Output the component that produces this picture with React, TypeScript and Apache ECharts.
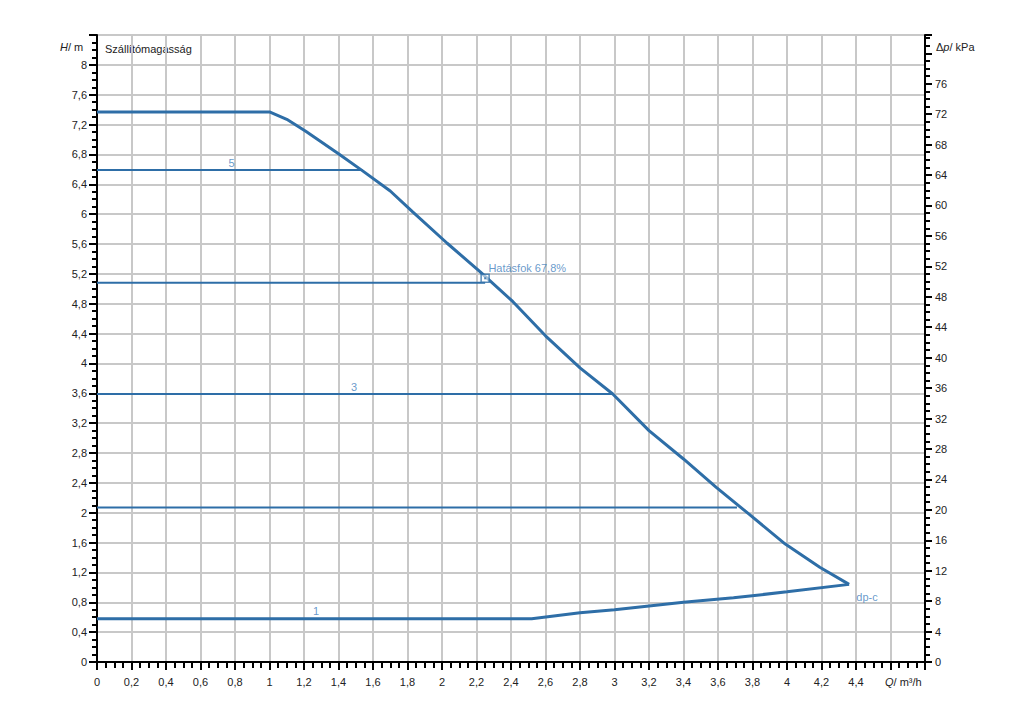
import React, { useEffect, useRef } from "react";
import * as echarts from "echarts";

// Max speed curve (Q m³/h, H m)
const maxCurve: [number, number][] = [
  [0, 7.37], [1.0, 7.37], [1.1, 7.27], [1.21, 7.11], [1.4, 6.81], [1.54, 6.58],
  [1.7, 6.31], [1.83, 6.03], [2.03, 5.61], [2.22, 5.23], [2.41, 4.83], [2.6, 4.37],
  [2.8, 3.94], [2.99, 3.59], [3.2, 3.1], [3.4, 2.72], [3.59, 2.34], [3.78, 1.98],
  [3.99, 1.58], [4.19, 1.27], [4.36, 1.04],
];
// Min speed curve
const minCurve: [number, number][] = [
  [4.36, 1.04], [4.0, 0.94], [3.69, 0.86], [3.4, 0.8], [3.0, 0.7], [2.8, 0.66],
  [2.52, 0.58], [0, 0.58],
];
// Constant pressure setpoint lines
const line5: [number, number][] = [[0, 6.59], [1.54, 6.59]];
const line3: [number, number][] = [[0, 3.59], [2.99, 3.59]];
const line2: [number, number][] = [[0, 2.07], [3.71, 2.07]];
const lineEff: [number, number][] = [[0, 5.08], [2.25, 5.08]];
const effPoint: [number, number] = [2.25, 5.14];
const effLabel = "Hatásfok 67,8%";
// Curve labels [Q, H, text]
const curveLabels: [number, number, string][] = [
  [0.78, 6.59, "5"],
  [1.49, 3.59, "3"],
  [1.27, 0.58, "1"],
];
const dpcLabel: [number, number, string] = [4.464, 0.868, "dp-c"];

const X_MAX = 4.8;
const Y_MAX = 8.4;
const KPA_PER_M = 9.81;

const BLUE = "#2e6ea7";
const LBLUE = "#3f80bd";
const FONT = "Liberation Sans";

const comma = (v: number) => String(Math.round(v * 100) / 100).replace(".", ",");

export default function App() {
  const ref = useRef<HTMLDivElement>(null);
  useEffect(() => {
    const chart = echarts.init(ref.current!, undefined, { renderer: "svg" });
    const lineSeries = (data: [number, number][], w: number) => ({
      type: "line",
      data,
      symbol: "none",
      lineStyle: { color: BLUE, width: w },
      silent: true,
      z: 3,
    });
    chart.setOption({
      animation: false,
      textStyle: { fontFamily: FONT },
      grid: {
        left: 97, right: 99, top: 35, bottom: 60,
        show: true, borderColor: "#000", borderWidth: 2,
      },
      xAxis: {
        type: "value", min: 0, max: X_MAX, interval: 0.2,
        axisLine: { show: true, lineStyle: { color: "#000", width: 2 } },
        axisTick: { show: true, length: 8, lineStyle: { color: "#000", width: 2 } },
        minorTick: { show: true, splitNumber: 4, length: 6, lineStyle: { color: "#000", width: 2 } },
        splitLine: { show: true, lineStyle: { color: "#c8c8c8", width: 2 } },
        axisLabel: {
          margin: 14, color: "#222", fontSize: 11, fontFamily: FONT,
          formatter: (v: number) => (v > 4.45 ? "" : comma(v)),
        },
      },
      yAxis: [
        {
          type: "value", min: 0, max: Y_MAX, interval: 0.4, position: "left",
          axisLine: { show: true, lineStyle: { color: "#000", width: 2 } },
          axisTick: { show: true, length: 8, lineStyle: { color: "#000", width: 2 } },
          minorTick: { show: true, splitNumber: 4, length: 5, lineStyle: { color: "#000", width: 2 } },
          splitLine: { show: true, lineStyle: { color: "#c8c8c8", width: 2 } },
          axisLabel: {
            margin: 10, color: "#222", fontSize: 11, fontFamily: FONT,
            formatter: (v: number) => (v > 8.05 ? "" : comma(v)),
          },
        },
        {
          type: "value", min: 0, max: Y_MAX * KPA_PER_M, interval: 4, position: "right",
          axisLine: { show: true, lineStyle: { color: "#000", width: 2 } },
          axisTick: { show: true, length: 7, lineStyle: { color: "#000", width: 2 } },
          minorTick: { show: true, splitNumber: 4, length: 5, lineStyle: { color: "#000", width: 2 } },
          splitLine: { show: false },
          axisLabel: {
            margin: 10, color: "#222", fontSize: 11, fontFamily: FONT,
            formatter: (v: number) => (v > 78 ? "" : String(v)),
          },
        },
      ],
      series: [
        lineSeries(line5, 2),
        lineSeries(line3, 2),
        lineSeries(line2, 2),
        lineSeries(lineEff, 2),
        lineSeries(maxCurve, 3),
        lineSeries(minCurve, 3),
        {
          type: "scatter",
          data: [effPoint],
          symbol: "rect",
          symbolSize: 8,
          itemStyle: { color: "rgba(255,255,255,0.7)", borderColor: BLUE, borderWidth: 1.5 },
          label: {
            show: true, position: [8, -11], align: "left", verticalAlign: "top",
            formatter: effLabel, color: LBLUE, fontSize: 11, fontFamily: FONT,
          },
          z: 5,
        },
        {
          type: "scatter", data: [effPoint], symbol: "rect", symbolSize: 2,
          itemStyle: { color: BLUE }, z: 6,
        },
        {
          type: "scatter",
          data: curveLabels.map((d) => ({ value: [d[0], d[1]], name: d[2] })),
          symbolSize: 0,
          label: {
            show: true, position: "top", distance: 2, formatter: (p: any) => p.name,
            color: LBLUE, fontSize: 11, fontFamily: FONT,
          },
          z: 6,
        },
        {
          type: "scatter",
          data: [{ value: [dpcLabel[0], dpcLabel[1]], name: dpcLabel[2] }],
          symbolSize: 0,
          label: {
            show: true, position: "inside", formatter: (p: any) => p.name,
            color: LBLUE, fontSize: 11, fontFamily: FONT,
          },
          z: 6,
        },
      ],
      graphic: [
        {
          type: "text", left: 60, top: 41,
          style: {
            text: "{i|H}/ m",
            rich: { i: { fontStyle: "italic", fontSize: 11, fontFamily: FONT, fill: "#222" } },
            fontSize: 11, fontFamily: FONT, fill: "#222",
          },
        },
        {
          type: "text", left: 105, top: 43,
          style: { text: "Szállítómagasság", fontSize: 11, fontFamily: FONT, fill: "#222" },
        },
        {
          type: "text", left: 936, top: 41,
          style: {
            text: "Δ{i|p}/ kPa",
            rich: { i: { fontStyle: "italic", fontSize: 11, fontFamily: FONT, fill: "#222" } },
            fontSize: 11, fontFamily: FONT, fill: "#222",
          },
        },
        {
          type: "text", left: 885, top: 676,
          style: {
            text: "{i|Q}/ m³/h",
            rich: { i: { fontStyle: "italic", fontSize: 11, fontFamily: FONT, fill: "#222" } },
            fontSize: 11, fontFamily: FONT, fill: "#222",
          },
        },
      ],
    });
    return () => chart.dispose();
  }, []);
  return (
    <div
      ref={ref}
      style={{ position: "fixed", left: 0, top: 0, width: 1024, height: 722, background: "#fff" }}
    />
  );
}
